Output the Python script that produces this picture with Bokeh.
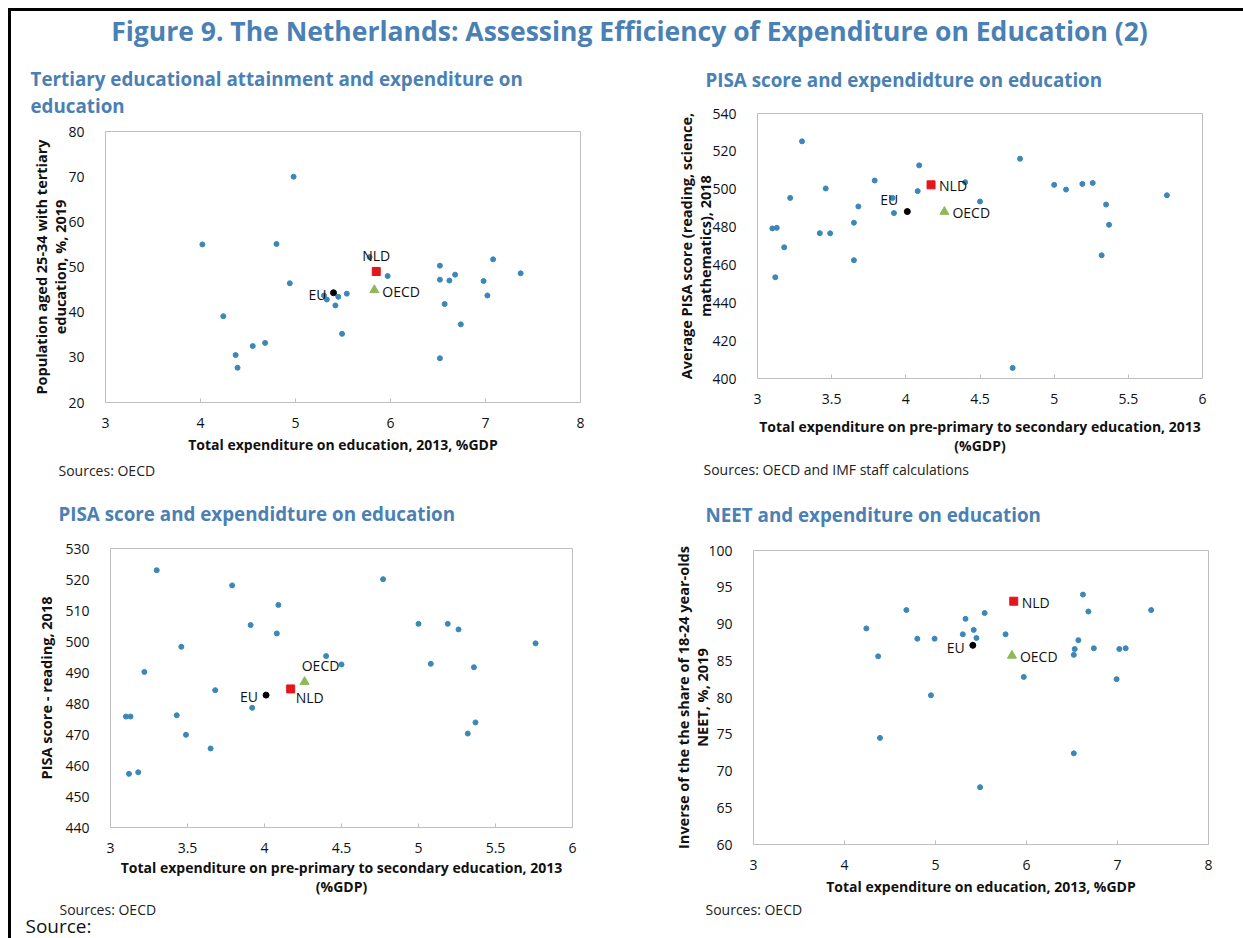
from bokeh.plotting import figure
from bokeh.layouts import column, row
from bokeh.models import FixedTicker, NumeralTickFormatter, Label
from bokeh.core.properties import value
from bokeh.embed import file_html
from bokeh.resources import INLINE

# ---- data ----
# panel 1: tertiary attainment vs total expenditure on education
p1_x = [4.02, 4.98, 4.80, 4.94, 4.24, 4.37, 4.39, 4.55, 4.68, 5.33, 5.42, 5.45, 5.54,
        5.49, 5.97, 6.52, 6.52, 6.62, 6.68, 6.57, 6.74, 6.52, 6.98, 7.02, 7.08, 7.37,
        5.30, 5.78]
p1_y = [55.0, 70.0, 55.1, 46.4, 39.1, 30.5, 27.7, 32.5, 33.2, 42.8, 41.5, 43.4, 44.1,
        35.2, 48.0, 50.3, 47.2, 47.0, 48.3, 41.8, 37.3, 29.8, 46.9, 43.7, 51.7, 48.6,
        43.7, 52.2]
p1_nld = [5.85, 49.0]
p1_eu = [5.40, 44.3]
p1_oecd = [5.83, 44.9]

# panel 2: average PISA score vs pre-primary to secondary expenditure
p2_x = [3.30, 3.22, 3.10, 3.13, 3.18, 3.12, 3.46, 3.42, 3.49, 3.65, 3.65, 3.68, 3.79,
        3.92, 3.91, 4.08, 4.09, 4.40, 4.50, 4.77, 5.00, 5.08, 5.19, 5.26, 5.35, 5.37,
        5.32, 5.76, 4.72]
p2_y = [525.3, 495.4, 479.3, 479.6, 469.3, 453.5, 500.4, 476.8, 476.7, 482.3, 462.5,
        490.9, 504.6, 487.4, 495.4, 499.0, 512.6, 503.7, 493.5, 516.1, 502.3, 499.8,
        502.8, 503.3, 491.9, 481.2, 465.1, 496.8, 405.6]
p2_nld = [4.17, 502.3]
p2_eu = [4.01, 488.2]
p2_oecd = [4.26, 488.1]

# panel 3: PISA reading score vs pre-primary to secondary expenditure
p3_x = [3.30, 3.79, 4.09, 3.91, 4.08, 3.46, 3.22, 3.68, 3.10, 3.13, 3.43, 3.49, 3.65,
        3.12, 3.18, 3.92, 4.40, 4.50, 4.77, 5.00, 5.19, 5.26, 5.08, 5.36, 5.37, 5.32, 5.76]
p3_y = [523.0, 518.1, 511.8, 505.3, 502.6, 498.3, 490.2, 484.3, 475.8, 475.8, 476.2,
        469.9, 465.5, 457.3, 457.8, 478.6, 495.3, 492.6, 520.1, 505.7, 505.7, 503.9,
        492.8, 491.7, 473.9, 470.3, 499.4]
p3_nld = [4.17, 484.7]
p3_eu = [4.01, 482.7]
p3_oecd = [4.26, 487.0]

# panel 4: inverse NEET share vs total expenditure on education
p4_x = [4.24, 4.37, 4.39, 4.68, 4.80, 4.99, 4.95, 5.33, 5.30, 5.42, 5.45, 5.54, 5.77,
        5.97, 5.49, 6.62, 6.68, 6.57, 6.53, 6.52, 6.74, 7.02, 7.09, 6.99, 6.52, 7.37]
p4_y = [89.4, 85.6, 74.5, 91.9, 88.0, 88.0, 80.3, 90.7, 88.6, 89.2, 88.1, 91.5, 88.6,
        82.8, 67.8, 94.0, 91.7, 87.8, 86.6, 85.8, 86.7, 86.6, 86.7, 82.5, 72.4, 91.9]
p4_nld = [5.86, 93.1]
p4_eu = [5.41, 87.1]
p4_oecd = [5.84, 85.7]

ticks_total = [3, 4, 5, 6, 7, 8]
ticks_half = [3, 3.5, 4, 4.5, 5, 5.5, 6]

FONT = "Open Sans"
HEAD_BLUE = "#4A80B3"
DOT_BLUE = "#3B88B8"
NLD_RED = "#E3161B"
OECD_GREEN = "#8DB95A"
GREY = "#BFBFBF"
COL_A = 629   # width of left column
COL_B = 603   # width of right column


def text_strip(w, h, items):
    # blank canvas used only to hold headings / notes; coords are pixels from top-left,
    # y is the wanted baseline (labels land ~0.34em low, so lift them)
    s = figure(width=w, height=h, min_border=0, x_range=(0, w), y_range=(h, 0),
               x_axis_type=None, y_axis_type=None, output_backend="svg",
               toolbar_location=None, title_location=None)
    s.outline_line_color = None
    for x, y, txt, size, style, color, align in items:
        s.add_layout(Label(x=x, y=y - 0.34 * size, text=txt, text_font=FONT,
                           text_font_size="%spx" % size, text_font_style=style,
                           text_color=color, text_align=align, text_baseline="alphabetic"))
    return s


def sub(x, y, txt):
    return (x, y, txt, 18.8, "bold", HEAD_BLUE, "left")


def note(x, y, txt):
    return (x, y, txt, 14, "normal", "#222222", "left")


def make_panel(xs, ys, nld, eu, oecd, xr, yr, xticks, yticks, geom, labs, pos):
    left, top, fw, fh, right, bottom = geom
    p = figure(frame_width=fw, frame_height=fh, min_border_left=left, min_border_top=top,
               min_border_right=right, min_border_bottom=bottom, x_range=xr, y_range=yr,
               output_backend="svg", toolbar_location=None, title_location=None)
    p.grid.visible = False
    p.outline_line_color = GREY
    p.axis.axis_line_color = None
    p.axis.minor_tick_line_color = None
    p.xaxis.major_tick_line_color = GREY
    p.xaxis.major_tick_in = 4
    p.xaxis.major_tick_out = 0
    p.yaxis.major_tick_line_color = None
    p.xaxis.ticker = FixedTicker(ticks=xticks)
    p.yaxis.ticker = FixedTicker(ticks=yticks)
    p.xaxis.formatter = NumeralTickFormatter(format="0.[0]")
    p.axis.major_label_text_font = FONT
    p.axis.major_label_text_font_size = "14px"
    p.axis.major_label_text_color = "#111111"
    p.axis.major_label_standoff = 15
    p.axis.axis_label_text_font = FONT
    p.axis.axis_label_text_font_style = "bold"
    p.axis.axis_label_text_color = "#111111"
    p.axis.axis_label_text_line_height = 1.0
    p.xaxis.axis_label_text_font_size = "14px"
    p.yaxis.axis_label_text_font_size = "14.5px"
    p.xaxis.axis_label = labs[0]
    p.yaxis.axis_label = labs[1]
    p.xaxis.axis_label_standoff = labs[2]
    p.yaxis.axis_label_standoff = labs[3]

    p.scatter(xs, ys, size=5, color=DOT_BLUE)
    p.scatter([eu[0]], [eu[1]], size=6, color="black")
    p.scatter([oecd[0]], [oecd[1]], marker="triangle", size=9, color=OECD_GREEN)
    p.scatter([nld[0]], [nld[1]], marker="square", size=8, color=NLD_RED)

    for name, pt in (("NLD", nld), ("EU", eu), ("OECD", oecd)):
        dx, dy, align = pos[name]
        p.text([pt[0]], [pt[1]], text=[name], x_offset=dx, y_offset=dy,
               text_align=align, text_baseline="middle", text_font=value(FONT),
               text_font_size="14px", text_color="#111111")
    return p


p1 = make_panel(p1_x, p1_y, p1_nld, p1_eu, p1_oecd, (3, 8), (20, 80), ticks_total,
                list(range(20, 81, 10)), (94, 11, 475, 271, 60, 56),
                ("Total expenditure on education, 2013, %GDP",
                 "Population aged 25-34 with tertiary\neducation, %, 2019", 4, -5),
                {"NLD": (0, -16, "center"), "EU": (-7, 2, "right"), "OECD": (8, 1, "left")})

p2 = make_panel(p2_x, p2_y, p2_nld, p2_eu, p2_oecd, (3, 6), (400, 540), ticks_half,
                list(range(400, 541, 20)), (117, 20, 445, 265, 41, 77),
                ("Total expenditure on pre-primary to secondary education, 2013\n(%GDP)",
                 "Average PISA score (reading, science,\nmathematics), 2018", 10, -6),
                {"NLD": (8, 1, "left"), "EU": (-18, -12, "center"), "OECD": (8, 1, "left")})

p3 = make_panel(p3_x, p3_y, p3_nld, p3_eu, p3_oecd, (3, 6), (440, 530), ticks_half,
                list(range(440, 531, 10)), (99, 20, 462, 279, 68, 70),
                ("Total expenditure on pre-primary to secondary education, 2013\n(%GDP)",
                 "PISA score - reading, 2018", 2, 6),
                {"NLD": (19, 9, "center"), "EU": (-8, 1, "right"), "OECD": (16, -16, "center")})

p4 = make_panel(p4_x, p4_y, p4_nld, p4_eu, p4_oecd, (3, 8), (60, 100), ticks_total,
                list(range(60, 101, 5)), (113, 23, 455, 294, 35, 53),
                ("Total expenditure on education, 2013, %GDP",
                 "Inverse of the the share of 18-24 year-olds\nNEET, %, 2019", 4, -7),
                {"NLD": (8, 1, "left"), "EU": (-8, 2, "right"), "OECD": (8, 1, "left")})

head = text_strip(COL_A + COL_B, 38, [
    (618, 28.5, "Figure 9. The Netherlands: Assessing Efficiency of Expenditure on Education (2)",
     26.5, "bold", HEAD_BLUE, "center")])

a0 = text_strip(COL_A, 71, [sub(19, 35.8, "Tertiary educational attainment and expenditure on"),
                            sub(19, 62.8, "education")])
a1 = text_strip(COL_A, 70, [note(47, 17, "Sources: OECD"),
                            sub(47, 62, "PISA score and expendidture on education")])
a2 = text_strip(COL_A, 41, [note(48, 16, "Sources: OECD"),
                            (14, 34, "Source:", 19, "normal", "#111111", "left")])

b0 = text_strip(COL_B, 44, [sub(65, 36.5, "PISA score and expendidture on education")])
b1 = text_strip(COL_B, 70, [note(63, 17, "Sources: OECD and IMF staff calculations"),
                            sub(65, 64, "NEET and expenditure on education")])
b2 = text_strip(COL_B, 43, [note(65, 16, "Sources: OECD")])

left_col = column(row(a0), row(p1), row(a1), row(p3), row(a2))
right_col = column(row(b0), row(p2), row(b1), row(p4), row(b2))

page = column(head, row(left_col, right_col),
              styles={"margin-left": "8px", "margin-top": "8px",
                      "border-left": "3px solid black", "border-top": "3px solid black"})

open("out.html", "w").write(file_html(page, INLINE))
